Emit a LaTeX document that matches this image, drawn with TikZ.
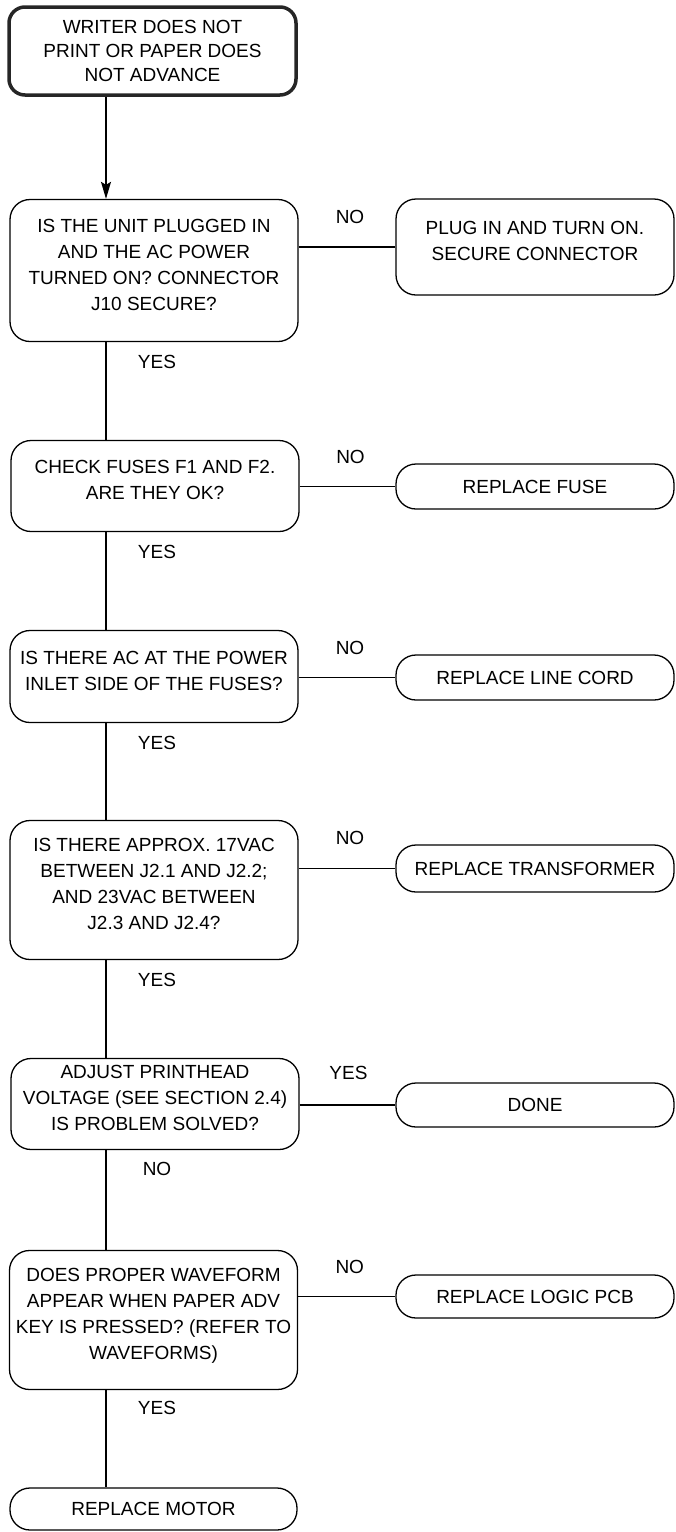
\documentclass[tikz,border=0pt]{standalone}
\usepackage{fontspec}
\setmainfont{Liberation Sans}
\usetikzlibrary{arrows.meta}
\tikzstyle{startbox} = [draw=black!85, line width=3.5pt, rounded corners=16pt, minimum width=287pt, minimum height=88pt, inner sep=0pt, align=center]
\tikzstyle{question} = [draw, rounded corners=20pt, minimum width=288pt, inner sep=0pt, align=center]
\tikzstyle{action} = [draw, rounded corners=20pt, minimum width=278pt, inner sep=0pt, align=center]
\tikzstyle{answer} = [inner sep=0pt]
\newcommand{\upgap}{\\[-14pt]\mbox{}}

\begin{document}
\begin{tikzpicture}[x=1pt, y=-1pt, font=\fontsize{19}{26}\selectfont, line width=1.3pt]
    \useasboundingbox (0,0) rectangle (676,1532);
    \coordinate (spine) at (106,0);
    % main column
    \draw (152.5,51) node[startbox, font=\fontsize{19}{24}\selectfont] (start) {WRITER DOES NOT\\PRINT OR PAPER DOES\\NOT ADVANCE};
    \draw (154,270.5) node[question, minimum height=142pt] (plug) {IS THE UNIT PLUGGED IN\\AND THE AC POWER\\TURNED ON? CONNECTOR\\J10 SECURE?\upgap};
    \draw (155,486) node[question, minimum height=91pt] (fuses) {CHECK FUSES F1 AND F2.\\ARE THEY OK?\upgap};
    \draw (154,676.5) node[question, minimum height=92pt] (inlet) {IS THERE AC AT THE POWER\\INLET SIDE OF THE FUSES?\upgap};
    \draw (154,890) node[question, minimum height=139pt] (vac) {IS THERE APPROX. 17VAC\\BETWEEN J2.1 AND J2.2;\\AND 23VAC BETWEEN\\J2.3 AND J2.4?\upgap};
    \draw (155,1104) node[question, minimum height=91pt] (adjust) {ADJUST PRINTHEAD\\VOLTAGE (SEE SECTION 2.4)\\IS PROBLEM SOLVED?\upgap};
    \draw (153.5,1320) node[question, minimum height=139pt] (wave) {DOES PROPER WAVEFORM\\APPEAR WHEN PAPER ADV\\KEY IS PRESSED? (REFER TO\\WAVEFORMS)\upgap};
    \draw (153.5,1509) node[question, minimum width=287pt, minimum height=42pt] (motor) {REPLACE MOTOR};
    % right column
    \draw (535,247) node[action, minimum height=96pt] (plugin) {PLUG IN AND TURN ON.\\SECURE CONNECTOR\upgap};
    \draw (535,486.5) node[action, minimum height=45pt] (fuse) {REPLACE FUSE};
    \draw (535,677.5) node[action, minimum height=45pt] (cord) {REPLACE LINE CORD};
    \draw (535,868.5) node[action, minimum height=47pt] (trans) {REPLACE TRANSFORMER};
    \draw (535,1105) node[action, minimum height=44pt] (done) {DONE};
    \draw (535,1296.5) node[action, minimum height=43pt] (logic) {REPLACE LOGIC PCB};
    % flow down
    \draw [-{Stealth[length=17pt, width=10pt, inset=3pt]}] (start.south -| spine) -- (plug.north -| spine);
    \draw (plug.south -| spine) -- node[answer, at start, xshift=51pt, yshift=-20pt] {YES} (fuses.north -| spine);
    \draw (fuses.south -| spine) -- node[answer, at start, xshift=51pt, yshift=-20pt] {YES} (inlet.north -| spine);
    \draw (inlet.south -| spine) -- node[answer, at start, xshift=51pt, yshift=-20pt] {YES} (vac.north -| spine);
    \draw (vac.south -| spine) -- node[answer, at start, xshift=51pt, yshift=-20pt] {YES} (adjust.north -| spine);
    \draw (adjust.south -| spine) -- node[answer, at start, xshift=51pt, yshift=-19pt] {NO} (wave.north -| spine);
    \draw (wave.south -| spine) -- node[answer, at start, xshift=51pt, yshift=-18pt] {YES} (motor.north -| spine);
    % branches
    \draw (plug.east |- plugin.west) -- node[answer, xshift=3pt, yshift=30pt] {NO} (plugin.west);
    \draw (fuses.east |- fuse.west) -- node[answer, xshift=3pt, yshift=30pt] {NO} (fuse.west);
    \draw (inlet.east |- cord.west) -- node[answer, xshift=3pt, yshift=30pt] {NO} (cord.west);
    \draw (vac.east |- trans.west) -- node[answer, xshift=3pt, yshift=31pt] {NO} (trans.west);
    \draw (adjust.east |- done.west) -- node[answer, xshift=1pt, yshift=32pt] {YES} (done.west);
    \draw (wave.east |- logic.west) -- node[answer, xshift=3pt, yshift=30pt] {NO} (logic.west);
\end{tikzpicture}
\end{document}
